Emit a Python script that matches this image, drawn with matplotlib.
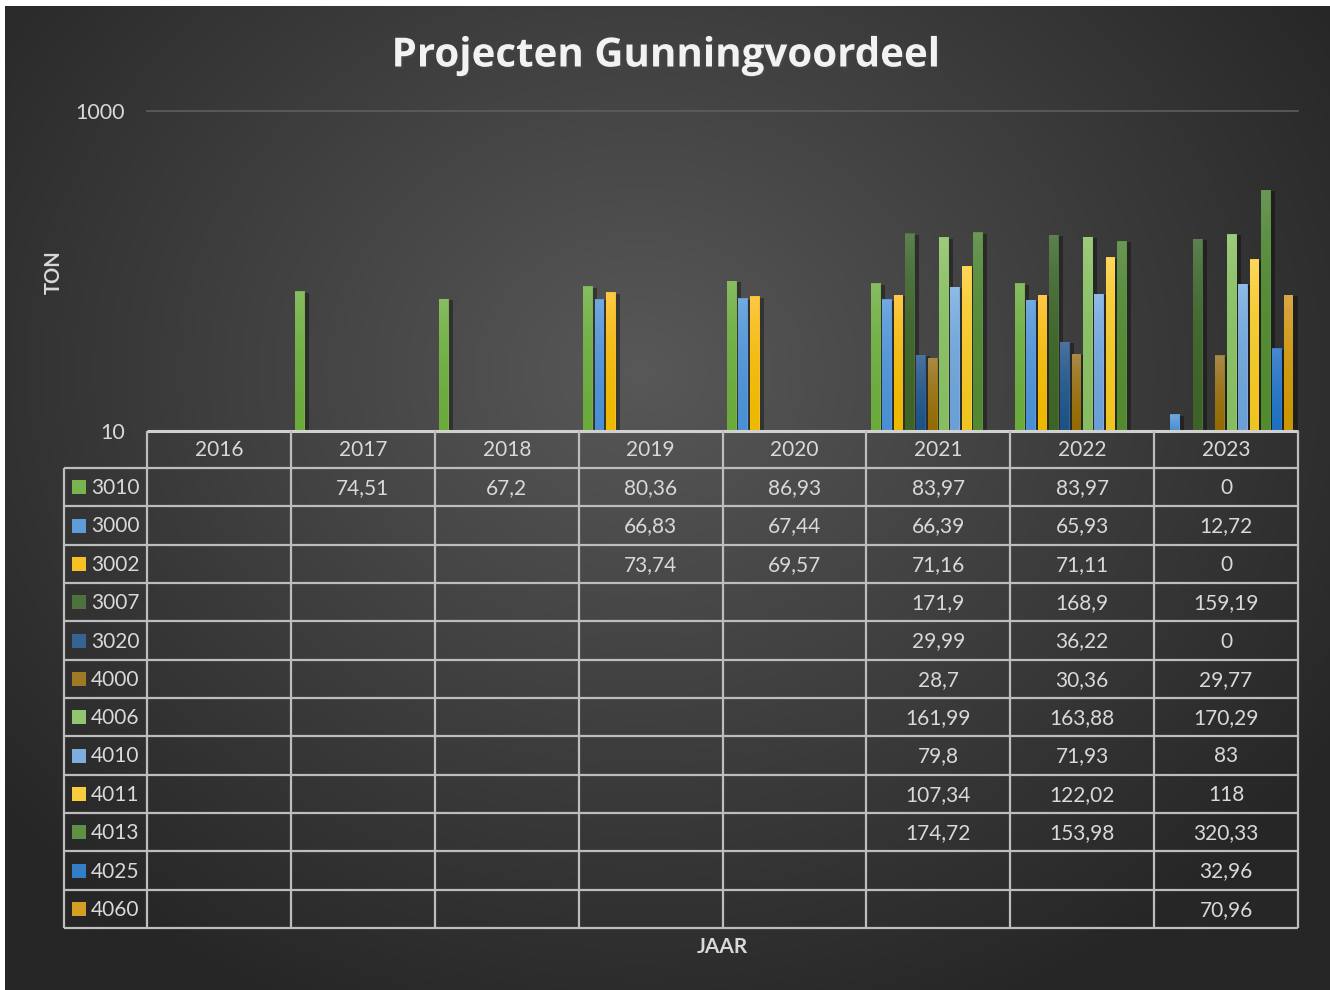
import numpy as np
import matplotlib
matplotlib.use("Agg")
import matplotlib.pyplot as plt
from matplotlib import patheffects as pe
from matplotlib.patches import Rectangle
from matplotlib.colors import to_rgb

# ---------------- data ----------------
years = ["2016", "2017", "2018", "2019", "2020", "2021", "2022", "2023"]
series = ["3010", "3000", "3002", "3007", "3020", "4000",
          "4006", "4010", "4011", "4013", "4025", "4060"]
s3010 = [None, 74.51, 67.2, 80.36, 86.93, 83.97, 83.97, 0]
s3000 = [None, None, None, 66.83, 67.44, 66.39, 65.93, 12.72]
s3002 = [None, None, None, 73.74, 69.57, 71.16, 71.11, 0]
s3007 = [None, None, None, None, None, 171.9, 168.9, 159.19]
s3020 = [None, None, None, None, None, 29.99, 36.22, 0]
s4000 = [None, None, None, None, None, 28.7, 30.36, 29.77]
s4006 = [None, None, None, None, None, 161.99, 163.88, 170.29]
s4010 = [None, None, None, None, None, 79.8, 71.93, 83]
s4011 = [None, None, None, None, None, 107.34, 122.02, 118]
s4013 = [None, None, None, None, None, 174.72, 153.98, 320.33]
s4025 = [None, None, None, None, None, None, None, 32.96]
s4060 = [None, None, None, None, None, None, None, 70.96]
values = [s3010, s3000, s3002, s3007, s3020, s4000,
          s4006, s4010, s4011, s4013, s4025, s4060]
y_ticks = [10, 1000]
y_tick_labels = ["10", "1000"]

# (bottom, top) gradient colours per series
grad_colors = [
    ("#6AAB3C", "#88BE62"), ("#4A8FD4", "#74AADF"), ("#EDB800", "#FFC94A"),
    ("#3D6327", "#5F8152"), ("#1B5287", "#4E73A0"), ("#936B00", "#AA8A4A"),
    ("#86BD62", "#9ECC7D"), ("#6C9FD6", "#90BCE6"), ("#F0C420", "#FFD85C"),
    ("#528A30", "#6B9858"), ("#1E70BE", "#4A89D0"), ("#CC9600", "#DBA84A"),
]

FONT = "Lato"
TXT = "#D9D9D9"
LINE = "#BDBDBD"

W, H = 1330, 990
fig = plt.figure(figsize=(W / 100, H / 100), dpi=100)
fig.patch.set_facecolor("white")

# ---------------- background (radial gradient) ----------------
bg = fig.add_axes([5 / W, 0, 1 - 5 / W, 1 - 6 / H])
yy, xx = np.mgrid[6:990:2, 5:1330:2]
d = np.hypot((xx - 640) / 1.0, (yy - 370) / 0.85)
val = (88 - 50 * np.clip(d / 830, 0, 1)) / 255.0
bg.imshow(np.dstack([val, val, val]), aspect="auto", extent=[0, 1, 0, 1],
          interpolation="bilinear")
bg.set_axis_off()

# ---------------- main plot ----------------
def fx(px):
    return px / W

def fy(py):
    return 1 - py / H

ax = fig.add_axes([fx(147), fy(431), (1298 - 147) / W, (431 - 111) / H])
ax.patch.set_alpha(0)
ax.set_yscale("log", nonpositive="clip")

n = len(series)
slot = 0.079
bw = 0.068
xcat = np.arange(len(years))
for i, (vals, (cb, ct)) in enumerate(zip(values, grad_colors)):
    xs = xcat - slot * n / 2 + (i + 0.5) * slot
    hs = [v if v else np.nan for v in vals]
    mid = tuple((np.array(to_rgb(cb)) + np.array(to_rgb(ct))) / 2)
    bars = ax.bar(xs, hs, width=bw, color=mid, linewidth=0, zorder=3)
    grad = np.linspace(np.array(to_rgb(ct)), np.array(to_rgb(cb)), 64).reshape(64, 1, 3)
    for b, h in zip(bars, hs):
        if np.isnan(h):
            continue
        b.set_path_effects([pe.SimplePatchShadow(offset=(3, -1), shadow_rgbFace="black",
                                                 alpha=0.35), pe.Normal()])
        x0 = b.get_x()
        im = ax.imshow(grad, extent=(x0, x0 + bw, 10, h), aspect="auto",
                       interpolation="bilinear", zorder=4)
        im.set_clip_path(b)

ax.set_xlim(-0.5, len(years) - 0.5)
ax.set_ylim(10, 1000)
ax.axhline(1000, color="#5E5E5E", lw=1.2, zorder=1, clip_on=False)
ax.set_yticks(y_ticks)
ax.set_yticklabels(y_tick_labels)
ax.yaxis.set_minor_locator(matplotlib.ticker.NullLocator())
ax.tick_params(axis="y", length=0, pad=16, labelcolor=TXT, labelsize=15.5)
for lab in ax.get_yticklabels():
    lab.set_fontfamily(FONT)
ax.set_xticks([])
for s in ax.spines.values():
    s.set_visible(False)

# ---------------- overlay for text and table ----------------
ov = fig.add_axes([0, 0, 1, 1])
ov.set_xlim(0, W)
ov.set_ylim(H, 0)
ov.set_axis_off()
ov.patch.set_alpha(0)

ov.text(665, 56, "Projecten Gunningvoordeel", ha="center", va="center",
        fontsize=29, fontweight="bold", color="#F2F2F2", family="Open Sans",
        path_effects=[pe.withSimplePatchShadow(offset=(1.5, -1.5), alpha=0.6)])
ov.text(54, 272, "TON", rotation=90, ha="center", va="center", fontsize=14.5,
        fontweight="bold", color=TXT, family=FONT)
ov.text(722, 947, "JAAR", ha="center", va="center", fontsize=15,
        fontweight="bold", color=TXT, family=FONT)

# table geometry (pixels)
x_left = 64
x0, x1 = 147, 1298
col_w = (x1 - x0) / len(years)
col_x = [x0 + k * col_w for k in range(len(years) + 1)]
y_top = 431
y_head = 468
row_h = (928 - y_head) / len(series)
row_y = [y_head + r * row_h for r in range(len(series) + 1)]

lw = 1.6
# axis line
ov.plot([x0, x1], [y_top, y_top], color="#D0D0D0", lw=2.2, solid_capstyle="butt")
for cx in col_x:
    ov.plot([cx, cx], [y_top, row_y[-1]], color=LINE, lw=lw, solid_capstyle="butt")
ov.plot([x_left, x_left], [y_head, row_y[-1]], color=LINE, lw=lw, solid_capstyle="butt")
for ry in row_y:
    ov.plot([x_left, x1], [ry, ry], color=LINE, lw=lw, solid_capstyle="butt")

for k, yr in enumerate(years):
    ov.text(col_x[k] + col_w / 2, (y_top + y_head) / 2 + 1, yr, ha="center",
            va="center", fontsize=15, color=TXT, family=FONT)

def fmt(v):
    return f"{v:g}".replace(".", ",")

for r, (name, vals, (cb, ct)) in enumerate(zip(series, values, grad_colors)):
    cy = (row_y[r] + row_y[r + 1]) / 2
    mid = tuple((np.array(to_rgb(cb)) + np.array(to_rgb(ct))) / 2)
    ov.add_patch(Rectangle((72, cy - 7), 14, 14, color=mid, lw=0))
    ov.text(91, cy + 1, name, ha="left", va="center", fontsize=15, color=TXT, family=FONT)
    for k, v in enumerate(vals):
        if v is None:
            continue
        ov.text(col_x[k] + col_w / 2, cy + 1, fmt(v), ha="center", va="center",
                fontsize=15, color=TXT, family=FONT)

fig.savefig("out.png", dpi=100, facecolor=fig.get_facecolor())
